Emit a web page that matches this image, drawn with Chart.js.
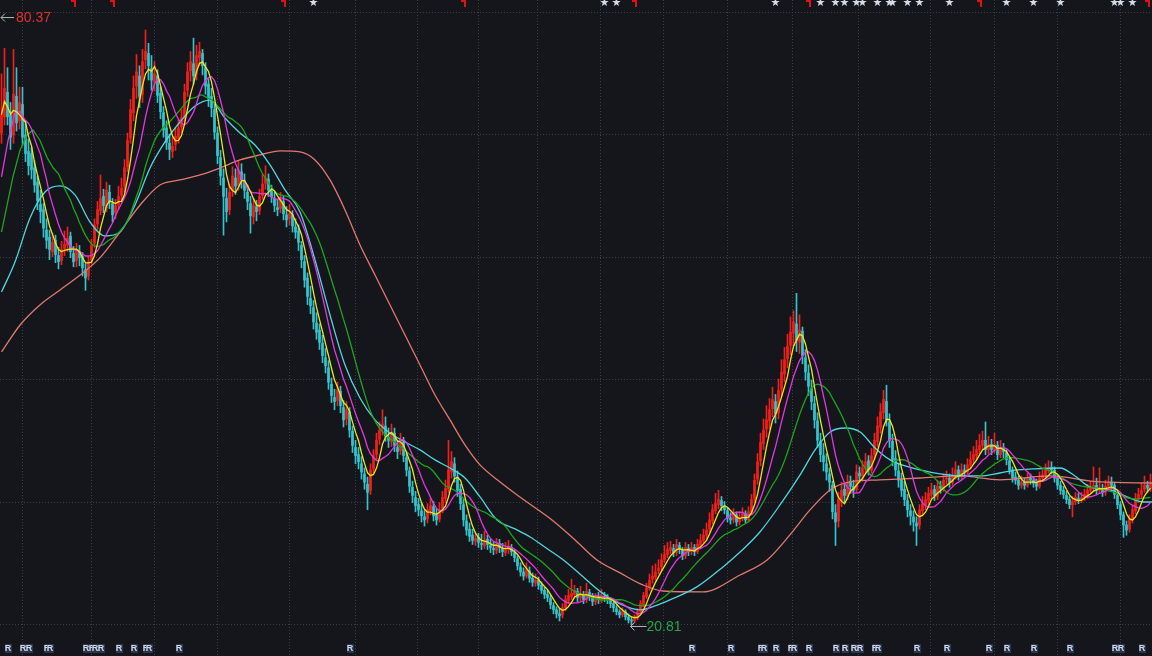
<!DOCTYPE html>
<html>
<head>
<meta charset="utf-8">
<script src="https://cdn.jsdelivr.net/npm/chart.js@4/dist/chart.umd.min.js"></script>
<style>
html,body{margin:0;padding:0;background:#14161b;overflow:hidden;}
#wrap{width:1152px;height:656px;}
</style>
</head>
<body>
<div id="wrap"><canvas id="c" width="1152" height="656"></canvas></div>
<script>
// ---- daily candles (price) ----
const open = [
69.0,70.6,73.0,70.8,68.8,72.6,70.2,71.8,68.8,67.2,
67.0,65.6,64.2,62.0,61.5,59.5,58.8,57.4,58.5,57.0,
56.5,57.7,58.0,58.9,57.2,56.5,57.4,56.9,55.6,55.0,
56.6,58.2,60.1,61.4,62.8,61.7,63.2,62.1,61.2,62.0,
62.9,63.8,65.7,68.5,71.0,73.6,74.6,72.8,76.2,76.8,
75.3,74.0,74.6,72.9,71.0,69.5,68.0,67.2,67.9,68.5,
69.6,70.6,73.2,75.1,75.8,74.8,76.4,76.8,75.4,73.8,
72.6,71.3,69.0,66.6,64.6,62.6,61.5,63.4,64.6,63.9,
65.2,64.3,63.2,62.1,60.8,61.8,61.4,62.9,64.1,64.5,
63.3,62.6,61.7,61.6,62.3,61.0,60.6,61.0,59.8,59.4,
58.0,56.4,54.8,52.8,51.9,50.4,49.7,48.4,47.0,46.0,
44.4,43.1,42.8,43.7,42.1,41.0,41.7,39.8,38.2,37.5,
36.6,35.6,34.6,34.0,36.1,37.5,39.0,40.0,40.3,39.2,
38.8,39.6,38.2,37.9,38.7,37.2,35.9,34.3,33.3,32.6,
32.0,31.4,31.2,32.0,32.4,31.6,31.2,32.2,33.2,34.1,
35.8,36.6,35.3,34.1,32.6,31.0,30.2,29.6,29.0,29.4,
28.8,28.6,29.2,28.6,28.3,28.1,28.8,28.3,27.9,28.2,
28.4,27.9,27.3,26.5,26.0,25.6,26.1,25.4,24.9,25.2,
24.7,24.2,23.8,23.4,22.7,22.3,21.9,21.8,22.5,23.2,
23.6,23.8,24.1,23.5,23.8,23.3,24.0,23.6,23.1,23.5,
23.2,23.6,23.4,23.3,22.9,22.4,22.1,21.8,22.1,21.6,
21.3,21.2,21.5,22.1,22.8,23.6,24.5,25.3,25.5,26.1,
26.5,27.2,27.7,28.1,28.3,27.9,28.6,28.1,27.6,28.3,
28.0,28.4,28.0,28.6,29.1,29.6,30.2,31.0,32.0,32.6,
33.0,32.4,32.0,31.3,31.1,31.6,30.9,31.3,31.7,31.1,
31.9,33.2,35.1,36.9,38.6,40.0,40.8,42.0,42.7,41.6,
43.9,45.4,46.9,48.2,49.4,50.3,48.5,49.6,47.0,45.5,
44.0,42.5,40.8,38.8,37.4,36.6,35.6,34.5,31.8,31.0,
33.0,34.1,33.5,34.9,34.4,34.1,35.7,35.4,36.1,36.9,
36.0,37.5,38.8,40.2,41.6,42.7,40.7,38.8,37.1,35.9,
35.1,34.1,33.0,32.0,31.4,30.8,30.6,32.0,32.6,33.0,
33.6,34.1,33.4,34.4,34.2,35.1,35.2,34.8,35.5,36.0,
35.4,36.0,35.8,36.5,37.0,37.4,38.0,38.4,38.9,38.0,
38.5,38.0,38.4,37.5,38.1,37.7,36.9,36.0,35.3,35.0,
34.5,34.8,34.5,35.2,35.0,34.7,34.4,35.2,35.5,36.0,
36.2,36.0,35.2,34.5,34.0,33.5,33.1,32.6,32.9,33.2,
33.1,33.3,33.5,34.0,34.2,34.5,34.0,34.2,33.8,34.4,
34.8,34.5,33.5,32.6,31.6,30.6,30.2,31.1,32.0,33.1,
33.6,34.1,34.5,34.2
];
const close = [
70.8,73.4,70.6,68.6,72.8,70.0,72.0,68.6,67.0,65.8,
65.4,63.9,62.4,61.3,59.7,58.5,57.6,58.3,57.1,56.4,
57.6,58.1,58.7,57.4,56.4,57.6,56.8,55.8,54.8,56.4,
58.0,60.0,61.5,62.6,61.9,63.4,62.3,61.0,61.9,62.8,
63.6,65.6,68.3,71.3,73.4,75.0,72.6,76.0,77.0,75.6,
74.2,74.8,72.7,71.1,69.3,68.1,67.4,67.7,68.7,69.5,
70.5,73.0,75.0,76.0,74.6,76.6,77.0,75.6,73.6,72.4,
71.5,69.1,66.8,64.8,62.8,61.3,63.2,64.8,63.8,65.4,
64.4,63.4,62.3,60.9,61.9,61.3,62.8,64.0,64.6,63.4,
62.8,61.9,61.5,62.5,61.1,60.5,61.1,59.9,59.3,58.3,
56.6,54.6,53.0,52.1,50.5,49.5,48.5,47.2,46.2,44.6,
43.3,42.7,43.8,42.3,40.9,41.9,39.9,38.4,37.4,36.8,
35.8,34.8,33.8,36.0,37.4,38.9,39.9,40.5,39.3,38.9,
39.7,38.4,37.8,38.9,37.4,36.0,34.4,33.5,32.5,32.1,
31.5,31.1,32.1,32.5,31.5,31.1,32.1,33.3,34.2,36.0,
36.8,35.4,34.0,32.7,31.1,30.1,29.5,29.1,29.3,28.9,
28.7,29.1,28.7,28.4,28.2,28.7,28.4,28.0,28.2,28.4,
28.0,27.4,26.6,26.0,25.6,26.2,25.4,25.0,25.2,24.7,
24.2,23.8,23.5,22.8,22.3,21.9,21.7,22.5,23.3,23.7,
23.9,24.2,23.5,23.8,23.3,24.1,23.7,23.1,23.5,23.3,
23.7,23.5,23.3,22.9,22.5,22.1,21.8,22.1,21.6,21.3,
21.2,21.5,22.1,22.9,23.7,24.4,25.2,25.6,26.0,26.4,
27.2,27.7,28.2,28.4,27.9,28.7,28.2,27.6,28.4,28.0,
28.4,28.0,28.7,29.1,29.6,30.1,31.1,32.1,32.7,33.1,
32.5,32.1,31.3,31.1,31.6,30.9,31.3,31.7,31.1,31.9,
33.1,35.0,36.8,38.7,39.9,40.9,41.9,42.9,41.5,43.8,
45.6,46.8,48.1,49.5,50.5,48.7,49.7,47.2,45.6,44.2,
42.7,40.9,38.9,37.5,36.8,35.8,34.8,31.9,30.9,33.1,
34.0,33.5,34.8,34.4,34.0,35.8,35.4,36.2,36.8,36.0,
37.4,38.9,40.3,41.7,42.9,40.9,38.9,37.0,36.0,35.0,
34.0,33.1,32.1,31.5,30.9,30.5,32.1,32.7,33.1,33.7,
34.0,33.5,34.4,34.2,35.0,35.2,34.8,35.5,36.0,35.4,
36.0,35.8,36.5,37.0,37.5,38.0,38.4,38.9,38.0,38.5,
38.0,38.5,37.5,38.2,37.8,37.0,36.0,35.2,35.0,34.5,
34.8,34.5,35.2,35.0,34.7,34.4,35.2,35.5,36.0,36.2,
36.0,35.2,34.5,34.0,33.6,33.1,32.6,32.9,33.3,33.1,
33.3,33.6,34.0,34.2,34.5,34.0,34.2,33.8,34.4,34.8,
34.5,33.6,32.6,31.6,30.6,30.1,31.1,32.1,33.1,33.6,
34.0,34.5,34.2,34.8
];
const high = [
74.8,77.3,75.4,72.0,77.2,75.4,73.5,73.5,70.2,68.4,
67.6,66.3,64.8,63.4,62.1,60.6,59.5,59.2,59.0,57.8,
58.4,59.4,59.8,59.3,57.9,58.2,58.0,57.3,56.2,56.9,
58.6,60.6,62.3,64.9,63.5,64.2,63.9,62.6,62.5,63.8,
64.6,66.4,69.0,72.3,74.6,76.7,75.6,77.2,79.1,77.8,
76.6,76.0,75.2,73.5,71.6,70.2,68.9,68.6,69.5,70.3,
71.3,73.8,75.9,77.0,78.3,77.6,77.9,77.2,75.9,74.3,
73.4,71.9,69.6,67.3,65.5,63.6,64.0,65.7,65.5,66.3,
66.0,65.0,63.9,62.8,62.6,62.4,63.5,64.9,65.8,65.0,
63.9,63.2,62.5,63.2,62.8,61.8,62.0,61.4,60.6,60.0,
58.4,57.0,55.3,54.0,52.6,51.4,50.3,49.2,47.9,46.7,
45.0,43.9,44.6,44.2,42.8,42.7,42.1,40.3,38.9,38.2,
37.3,36.2,35.3,36.6,38.0,39.6,40.7,41.9,41.2,40.1,
40.5,40.1,38.9,39.6,39.2,37.7,36.3,34.9,33.9,33.2,
32.7,32.0,32.7,33.2,32.9,32.2,32.8,33.9,35.0,38.9,
37.8,37.2,35.9,34.6,33.1,31.6,30.8,30.2,29.9,29.8,
29.7,30.0,29.6,29.2,28.9,29.3,29.2,28.8,28.9,29.1,
28.7,28.2,27.6,26.9,26.4,26.9,26.5,25.9,25.8,25.5,
25.0,24.5,24.2,23.7,23.0,22.6,22.4,22.9,23.7,24.3,
25.3,24.7,24.4,24.6,24.1,24.9,24.3,23.9,23.9,24.0,
24.3,24.0,23.8,23.5,23.1,22.7,22.3,22.5,22.3,21.9,
21.6,21.8,22.4,23.2,24.0,24.9,25.8,26.6,26.8,27.2,
27.8,28.6,28.9,29.0,28.7,29.2,28.9,28.4,28.9,28.7,
28.9,28.7,29.2,29.7,30.2,30.8,31.8,32.6,33.7,34.0,
33.4,32.9,32.3,31.8,32.2,31.9,31.9,32.3,32.0,32.4,
33.6,35.6,37.6,39.6,41.0,42.3,43.0,44.1,43.4,44.9,
46.8,48.0,49.3,51.0,51.6,53.3,51.2,50.0,47.8,46.3,
44.8,43.2,41.6,39.6,38.6,37.6,36.2,34.9,32.6,33.8,
34.8,34.7,35.5,35.4,35.0,36.5,36.3,36.9,37.6,37.4,
38.1,39.6,41.2,42.5,43.8,44.3,41.5,39.5,37.9,36.6,
35.7,34.9,33.6,32.6,32.0,31.4,32.6,33.4,33.8,34.3,
34.7,34.5,35.0,34.9,35.6,35.9,35.6,36.2,36.8,36.4,
36.6,36.5,37.1,37.8,38.3,38.9,39.5,39.8,40.7,39.3,
39.0,39.6,38.8,38.9,38.6,38.0,37.2,36.3,35.8,35.4,
35.4,35.2,35.7,35.6,35.3,35.1,35.8,36.0,36.6,36.9,
36.8,36.3,35.5,34.9,34.4,33.9,33.4,33.4,33.8,33.7,
33.8,34.1,34.6,34.9,36.3,35.2,36.2,34.6,35.0,35.4,
35.3,34.8,33.8,32.9,31.9,31.0,31.6,32.6,33.7,34.2,
34.7,35.4,34.9,35.6
];
const low = [
68.0,69.8,69.8,67.4,68.0,69.2,69.4,67.8,66.2,64.9,
64.5,63.2,61.5,60.2,58.8,57.7,56.6,56.9,56.3,55.7,
56.1,57.0,57.4,56.8,55.9,55.9,56.0,55.0,53.6,54.6,
56.2,57.8,59.6,61.0,61.2,61.3,61.6,60.3,60.6,61.5,
62.4,63.2,65.2,68.0,70.2,72.4,71.5,72.0,75.3,74.2,
73.2,73.1,72.0,70.4,68.6,67.4,66.4,66.6,67.3,68.0,
69.0,70.1,72.6,74.1,73.8,74.2,75.6,74.7,72.8,71.6,
70.6,68.4,66.0,63.9,59.0,60.3,61.0,62.8,63.0,63.4,
63.6,62.6,61.5,59.2,60.1,60.4,61.0,62.5,63.5,62.8,
62.2,61.3,60.9,61.2,60.5,59.8,60.0,59.3,58.7,57.5,
55.8,53.9,52.2,51.3,49.8,48.8,47.8,46.5,45.5,43.9,
42.6,41.9,42.3,41.6,40.2,40.4,39.2,37.7,36.6,36.1,
35.1,34.1,32.1,33.6,35.7,37.0,38.5,39.4,38.8,38.2,
38.3,37.8,37.1,37.5,36.8,35.4,33.8,32.8,31.9,31.5,
30.9,30.5,30.8,31.6,31.0,30.6,30.9,31.8,32.8,33.8,
35.2,34.8,33.4,32.1,30.5,29.6,29.0,28.7,28.6,28.4,
28.2,28.3,28.2,27.9,27.7,27.8,27.9,27.5,27.6,27.8,
27.6,27.0,26.2,25.6,25.2,25.4,25.0,24.6,24.6,24.3,
23.9,23.4,23.1,22.4,21.9,21.5,21.2,21.5,22.2,22.9,
23.3,23.5,23.1,23.2,22.9,23.0,23.2,22.7,22.8,22.9,
23.0,23.1,22.9,22.5,22.1,21.8,21.5,21.6,21.3,21.0,
20.81,21.0,21.3,21.9,22.6,23.4,24.2,24.9,25.2,25.8,
26.2,26.9,27.4,27.8,27.5,27.6,27.8,27.2,27.3,27.6,
27.7,27.6,27.8,28.4,28.8,29.3,29.9,30.7,31.7,32.2,
32.0,31.7,30.9,30.7,30.8,30.5,30.6,31.0,30.8,30.9,
31.6,32.9,34.6,36.4,38.0,39.2,40.0,41.2,40.6,41.0,
43.2,44.6,46.0,47.3,48.2,47.6,47.4,46.4,44.8,43.3,
41.9,40.1,38.2,36.8,35.9,35.0,33.9,31.2,28.6,30.4,
32.4,32.8,33.1,33.7,33.3,33.8,34.8,34.9,35.7,35.5,
35.7,37.1,38.3,39.6,41.0,40.3,38.2,36.4,35.4,34.3,
33.4,32.5,31.4,30.6,30.0,28.6,30.2,31.5,32.1,32.6,
33.2,33.0,33.1,33.7,33.9,34.6,34.3,34.5,35.1,35.0,
35.1,35.4,35.5,36.1,36.6,37.0,37.6,38.0,37.5,37.6,
37.5,37.7,37.0,37.2,37.2,36.5,35.6,34.8,34.6,34.1,
34.2,34.1,34.3,34.6,34.3,34.0,34.2,34.9,35.2,35.7,
35.6,34.8,34.1,33.6,33.2,32.7,32.2,31.4,32.6,32.7,
32.8,33.0,33.2,33.7,33.9,33.6,33.7,33.4,33.5,34.1,
34.1,33.2,32.2,31.1,29.4,29.6,29.9,30.8,31.7,32.8,
33.2,33.8,33.8,33.9
];

// ---- moving-average values (candle index, price) ----
// MA10 / MA20 before their windows are complete (history lies left of the view)
const ma10HeadX = [0, 2.2, 4.5, 6.2, 7.8];
const ma10HeadY = [64.7, 68.3, 71.0, 71.1, 70.3];
const ma20HeadX = [0, 3.8, 6.2, 8.5, 10.5, 12.8, 15.2, 17.2];
const ma20HeadY = [59.3, 64.7, 67.35, 68.8, 69.3, 68.3, 66.6, 65.6];
// MA30 (cyan) and MA60 (salmon)
const ma30X = [0,4.5,9.5,14.5,19.5,24.5,29.5,34.5,39.5,44.5,49.5,54.5,59.5,64.5,69.5,74.5,79.5,84.5,89.5,94.5,99.5,104.5,109.5,114.5,119.5,124.5,129.5,134.5,139.5,144.5,149.5,154.5,159.5,165.2,171.2,176.2,181.8,187.2,192.8,199.5,206.2,212.8,217.8,222.8,231.8,240.5,246.2,252.8,259.5,266.2,271.2,276.2,281.2,286.2,291.2,296.2,301.2,306.2,312.8,319.5,326.2,332.8,338.5,343.8,352.8,357.8,362.8,369.5,375.2,380.5,383.5];
const ma30Y = [53.43,56.37,60.68,63.23,63.82,62.94,60.29,58.92,59.31,61.96,65.58,68.13,70.09,71.66,72.24,70.48,69.01,67.84,65.88,63.43,61.27,56.57,51.18,46.28,43.05,40.90,39.62,38.74,37.96,36.98,36.19,35.21,33.35,31.10,30.22,29.43,28.30,27.20,25.80,24.10,22.87,22.28,22.67,23.26,24.54,26.50,27.96,29.92,32.57,35.51,37.96,39.72,40.11,39.72,38.15,36.98,36.39,36.00,35.61,35.41,35.41,35.70,36.00,36.10,36.19,35.41,34.33,34.04,33.35,32.86,32.86];
const ma60X = [0,6.2,12.8,19.5,26.2,32.8,39.5,46.2,52.8,59.5,66.2,72.8,79.5,86.2,92.8,99.5,104.5,109.5,114.5,119.5,124.5,129.5,134.5,139.5,144.5,149.5,154.5,159.5,166.2,172.8,183.5,191.2,198.5,206.2,213.8,220.5,233.8,246.2,255.2,262.8,269.5,276.2,282.8,292.8,306.2,319.5,332.8,349.5,366.2,383.5];
const ma60Y = [47.56,50.20,52.16,53.63,55.10,56.77,59.31,61.96,63.92,64.41,64.90,65.58,66.37,66.86,67.25,67.15,66.37,64.41,61.47,58.04,55.10,52.16,49.22,46.28,43.34,40.90,38.45,36.49,34.82,33.35,31.10,29.14,27.18,25.91,24.73,24.14,24.05,25.71,27.18,29.63,32.08,34.04,34.82,35.02,35.21,35.41,35.02,35.41,34.82,34.72];

// ---- axis / annotation values ----
const yMin = 17.77, yMax = 82.04;
const gridY = [20.81, 32.82, 44.83, 56.84, 68.85, 80.86];
const gridX = [18.5, 41.5, 60.5, 83.5, 108.5, 127.5, 149.5, 168.5, 188.5, 210.5, 230.5, 253.5, 273.5, 297.5, 321.5, 340.5, 363.5, 382.5];
const flagIdx = [24, 37, 94, 154, 211, 269, 326, 382];
const starIdx = [104, 201, 205, 258, 273, 278, 281, 285, 287, 292, 296, 297, 302, 306, 316, 335, 344, 353, 371, 373, 377];
const rIdx = [2, 7, 9, 15, 16, 28, 30, 31, 33, 39, 44, 48, 49, 59, 116, 230, 243, 253, 254, 258, 263, 264, 269, 278, 281, 284, 286, 291, 292, 305, 315, 329, 335, 344, 356, 371, 373, 380];
const highLabel = 80.37, lowLabel = 20.81, lowIdx = 210;

function movingAvg(arr, n, headX, headY) {
  const pts = [];
  if (headX) headX.forEach((x, k) => pts.push({ x, y: headY[k] }));
  arr.forEach((v, i) => {
    if (headX && i < n - 1) return;
    const s = Math.max(0, i - n + 1);
    let sum = 0;
    for (let k = s; k <= i; k++) sum += arr[k];
    pts.push({ x: i, y: sum / (i - s + 1) });
  });
  return pts;
}

const UP = '#f0201a', DOWN = '#38c3cc';
const candleColor = close.map((c, i) => c >= open[i] ? UP : DOWN);

const bgPlugin = {
  id: 'bg',
  beforeDraw(chart) {
    const ctx = chart.ctx;
    ctx.save();
    ctx.fillStyle = '#14161b';
    ctx.fillRect(0, 0, chart.width, chart.height);
    ctx.restore();
  }
};

const marksPlugin = {
  id: 'marks',
  afterDatasetsDraw(chart) {
    const { ctx } = chart;
    const xs = chart.scales.x, ys = chart.scales.y;
    ctx.save();
    ctx.fillStyle = '#e3120c';
    flagIdx.forEach(i => {
      const px = Math.round(xs.getPixelForValue(i));
      ctx.fillRect(px - 3, 0, 4, 2);
      ctx.fillRect(px, 0, 2, 7);
    });
    ctx.font = '11px "DejaVu Sans"';
    ctx.textAlign = 'center';
    ctx.textBaseline = 'middle';
    ctx.fillStyle = '#d4dae6';
    starIdx.forEach(i => ctx.fillText('★', xs.getPixelForValue(i), 3));
    ctx.font = 'bold 9px "Liberation Sans"';
    rIdx.forEach(i => {
      const px = xs.getPixelForValue(i);
      ctx.fillStyle = '#2a3550';
      ctx.fillRect(Math.round(px) - 3, 644, 7, 9);
      ctx.fillStyle = '#d2d8e4';
      ctx.fillText('R', px + 0.5, 649);
    });
    const yh = ys.getPixelForValue(highLabel);
    ctx.strokeStyle = '#b8b8b8';
    ctx.lineWidth = 1;
    ctx.beginPath();
    ctx.moveTo(1, yh + 0.5); ctx.lineTo(14, yh + 0.5);
    ctx.moveTo(1, yh + 0.5); ctx.lineTo(5, yh - 3.5);
    ctx.moveTo(1, yh + 0.5); ctx.lineTo(5, yh + 4.5);
    ctx.stroke();
    ctx.font = '14px "Liberation Sans"';
    ctx.textAlign = 'left';
    ctx.fillStyle = '#e0322c';
    ctx.fillText('80.37', 16, yh + 1);
    const xl = xs.getPixelForValue(lowIdx), yl = ys.getPixelForValue(lowLabel);
    ctx.beginPath();
    ctx.moveTo(xl - 1, yl + 1.5); ctx.lineTo(xl + 15, yl + 1.5);
    ctx.moveTo(xl - 1, yl + 1.5); ctx.lineTo(xl + 3, yl - 2.5);
    ctx.moveTo(xl - 1, yl + 1.5); ctx.lineTo(xl + 3, yl + 5.5);
    ctx.stroke();
    ctx.fillStyle = '#22a548';
    ctx.fillText('20.81', xl + 15, yl + 2);
    ctx.restore();
  }
};

const lineDs = (label, data, color, extra) => Object.assign({
  type: 'line', label, data, borderColor: color, borderWidth: 1.3,
  pointRadius: 0, fill: false, order: 1, tension: 0
}, extra || {});

new Chart(document.getElementById('c'), {
  type: 'bar',
  data: {
    datasets: [
      {
        label: 'wick',
        data: close.map((c, i) => ({ x: i, y: [low[i], high[i]] })),
        backgroundColor: candleColor,
        barThickness: 1, grouped: false, order: 10, borderWidth: 0
      },
      {
        label: 'body',
        data: close.map((c, i) => ({ x: i, y: [open[i], c] })),
        backgroundColor: candleColor,
        barThickness: 2, grouped: false, order: 9, borderWidth: 0, minBarLength: 1
      },
      lineDs('MA60', ma60X.map((x, i) => ({ x, y: ma60Y[i] })), '#df7a70', { cubicInterpolationMode: 'monotone', order: 5 }),
      lineDs('MA30', ma30X.map((x, i) => ({ x, y: ma30Y[i] })), '#52d6de', { cubicInterpolationMode: 'monotone', order: 4 }),
      lineDs('MA20', movingAvg(close, 20, ma20HeadX, ma20HeadY), '#1ea51e', { order: 3 }),
      lineDs('MA10', movingAvg(close, 10, ma10HeadX, ma10HeadY), '#e437e4', { order: 2 }),
      lineDs('MA5', movingAvg(close, 5), '#f2e614', { order: 1 })
    ]
  },
  options: {
    responsive: false,
    animation: false,
    devicePixelRatio: 1,
    layout: { padding: 0 },
    plugins: { legend: { display: false }, tooltip: { enabled: false } },
    scales: {
      x: {
        type: 'linear', min: -0.5, max: close.length - 0.5, offset: false,
        afterBuildTicks: ax => { ax.ticks = gridX.map(v => ({ value: v })); },
        ticks: { display: false, autoSkip: false },
        grid: { color: '#3a3e47', lineWidth: 1, drawTicks: false },
        border: { display: false, dash: [1, 2] }
      },
      y: {
        type: 'linear', min: yMin, max: yMax,
        afterBuildTicks: ax => { ax.ticks = gridY.map(v => ({ value: v })); },
        ticks: { display: false },
        grid: { color: '#3a3e47', lineWidth: 1, drawTicks: false },
        border: { display: false, dash: [1, 2] }
      }
    }
  },
  plugins: [bgPlugin, marksPlugin]
});
</script>
</body>
</html>
